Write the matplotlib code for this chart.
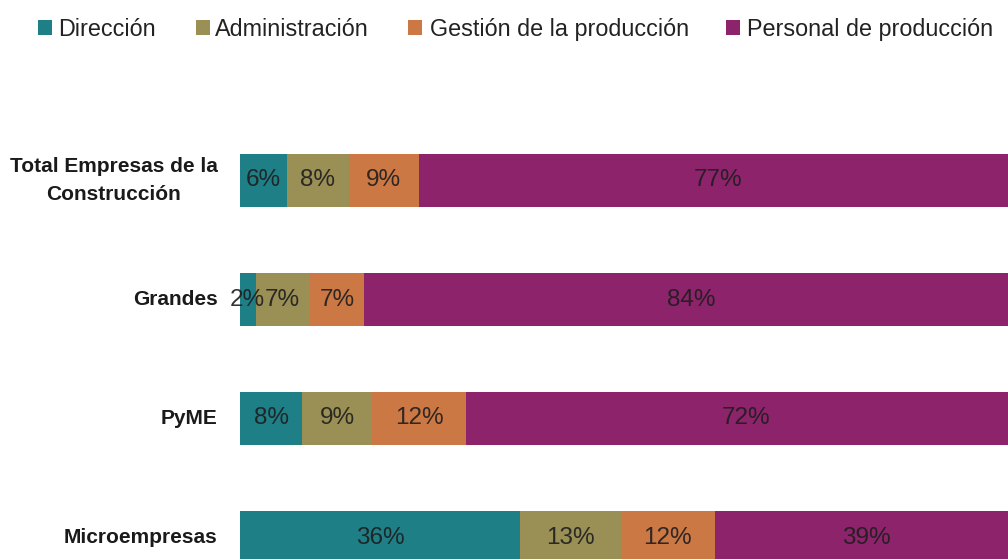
import matplotlib
matplotlib.use("Agg")
import matplotlib.pyplot as plt
from matplotlib.patches import Rectangle

categories = ["Total Empresas de la\nConstrucción", "Grandes", "PyME", "Microempresas"]
series_names = ["Dirección", "Administración", "Gestión de la producción", "Personal de producción"]
direccion = [6, 2, 8, 36]
administracion = [8, 7, 9, 13]
gestion = [9, 7, 12, 12]
personal = [77, 84, 72, 39]
colors = ["#1F7F87", "#9A8F55", "#CB7845", "#8C236B"]

FONT = ["Liberation Sans", "DejaVu Sans"]
plt.rcParams["font.family"] = FONT

W, H = 1008, 559
fig = plt.figure(figsize=(W / 100, H / 100), dpi=100)
left_px, right_px = 240, 1018
ax = fig.add_axes([left_px / W, 0, (right_px - left_px) / W, 1])

pitch = 119.0
c0 = 180.5
ys = [3 - i for i in range(len(categories))]
ax.set_xlim(0, 100)
ax.set_ylim(3 - (H - c0) / pitch, 3 + c0 / pitch)
bar_h = 53 / pitch

series = [direccion, administracion, gestion, personal]
lefts = [0] * len(categories)
for vals, col in zip(series, colors):
    ax.barh(ys, vals, left=lefts, height=bar_h, color=col, edgecolor="none")
    for y, l, v in zip(ys, lefts, vals):
        ax.text(l + v / 2, y, f"{v}%", ha="center", va="center",
                fontsize=17.5, color="#1e1e1e", alpha=0.9)
    lefts = [a + b for a, b in zip(lefts, vals)]

ax.axis("off")

for y, cat in zip(ys, categories):
    ax.text(-2.9, y, cat, ha="right", va="center", multialignment="center",
            fontsize=15, fontweight="bold", color="#1a1a1a", linespacing=1.6)

# legend drawn manually in figure pixel coordinates
sq_x = [38, 196, 408, 726]
txt_x = [58, 215, 430, 747]
sq = 14
sq_cy = 27.5
base_y = 36
for sx, tx, name, col in zip(sq_x, txt_x, series_names, colors):
    fig.patches.append(Rectangle((sx / W, (H - sq_cy - sq / 2) / H), sq / W, sq / H,
                                 transform=fig.transFigure, facecolor=col,
                                 edgecolor="none"))
    fig.text(tx / W, (H - base_y) / H, name, ha="left", va="baseline",
             fontsize=16.8, color="#222222")

fig.savefig("out.png", dpi=100)
